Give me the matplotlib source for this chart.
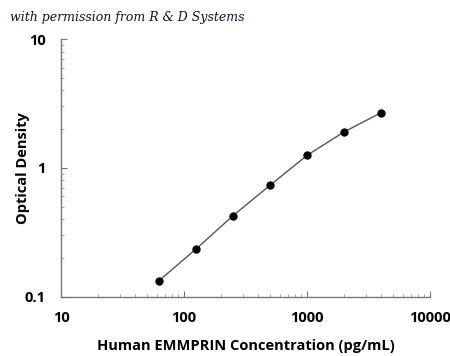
import matplotlib
matplotlib.use("Agg")
import matplotlib.pyplot as plt
from matplotlib.ticker import LogLocator, FixedLocator, NullFormatter

conc = [62.5, 125, 250, 500, 1000, 2000, 4000]
od = [0.133, 0.234, 0.425, 0.732, 1.25, 1.90, 2.68]
xticks = [10, 100, 1000, 10000]
xticklabels = ["10", "100", "1000", "10000"]
yticks = [0.1, 1, 10]
yticklabels = ["0.1", "1", "10"]

plt.rcParams['font.family'] = ['Open Sans', 'DejaVu Sans']

fig = plt.figure(figsize=(4.5, 3.56), dpi=100)
ax = fig.add_axes([0.1356, 0.1666, 0.82, 0.7238])
ax.set_xscale('log')
ax.set_yscale('log')
ax.set_xlim(10, 10000)
ax.set_ylim(0.1, 10)

ax.plot(conc, od, color='#555555', lw=1.0, zorder=2)
ax.plot(conc, od, 'o', color='black', ms=5, zorder=3)

for s in ['top', 'right']:
    ax.spines[s].set_visible(False)
for s in ['left', 'bottom']:
    ax.spines[s].set_color('#777777')
    ax.spines[s].set_linewidth(1.0)

ax.xaxis.set_major_locator(FixedLocator(xticks))
ax.set_xticklabels(xticklabels)
ax.yaxis.set_major_locator(FixedLocator(yticks))
ax.set_yticklabels(yticklabels)
ax.xaxis.set_minor_locator(LogLocator(base=10, subs=range(2, 10)))
ax.yaxis.set_minor_locator(LogLocator(base=10, subs=range(2, 10)))
ax.xaxis.set_minor_formatter(NullFormatter())
ax.yaxis.set_minor_formatter(NullFormatter())
ax.tick_params(which='major', direction='in', length=4, color='#777777', labelsize=10.5)
ax.tick_params(axis='x', which='major', pad=10)
ax.tick_params(axis='y', which='major', pad=11)
ax.tick_params(which='minor', direction='in', length=2, color='#999999')
for lab in ax.get_xticklabels() + ax.get_yticklabels():
    lab.set_fontweight('bold')

ax.set_xlabel("Human EMMPRIN Concentration (pg/mL)", fontsize=10.5, fontweight='bold')
ax.set_ylabel("Optical Density", fontsize=10.5, fontweight='bold')
ax.xaxis.set_label_coords(0.5, -0.164)
ax.yaxis.set_label_coords(-0.085, 0.5)

fig.text(0.022, 0.952, "with permission from R & D Systems", fontsize=9,
         fontstyle='italic', family='DejaVu Serif', color='#111133', va='center')

fig.savefig("out.png", dpi=100)
